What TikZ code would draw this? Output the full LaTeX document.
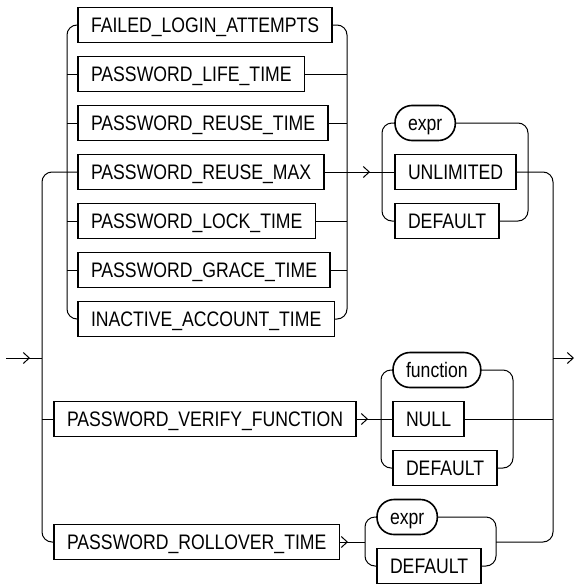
\documentclass[tikz,border=0pt]{standalone}
\usepackage{fontspec}
\setmainfont{Liberation Sans}[FakeStretch=0.84]
\usetikzlibrary{arrows.meta, positioning, calc}

\begin{document}
\begin{tikzpicture}[x=1pt, y=-1pt,
      every node/.style={font=\fontsize{21}{24}\selectfont},
      box/.style={draw, line width=1.6pt, rectangle, minimum height=35pt, inner xsep=13pt, inner ysep=0pt, text height=15pt, text depth=0pt, outer sep=0pt},
      pill/.style={box, rounded corners=17pt},
      line/.style={line width=1pt},
      bus/.style={line, rounded corners=10pt},
      arr/.style={line, -{Straight Barb[length=6pt, width=11pt]}}]
    \useasboundingbox (0,0) rectangle (575,584);
    % first choice
    \node[box, anchor=west] (fla) at (78,25) {FAILED\_LOGIN\_ATTEMPTS};
    \node[box, below=14pt of fla.south west, anchor=north west] (lif) {PASSWORD\_LIFE\_TIME};
    \node[box, below=14pt of lif.south west, anchor=north west] (rtm) {PASSWORD\_REUSE\_TIME};
    \node[box, below=14pt of rtm.south west, anchor=north west] (max) {PASSWORD\_REUSE\_MAX};
    \node[box, below=14pt of max.south west, anchor=north west] (lck) {PASSWORD\_LOCK\_TIME};
    \node[box, below=14pt of lck.south west, anchor=north west] (grc) {PASSWORD\_GRACE\_TIME};
    \node[box, below=14pt of grc.south west, anchor=north west] (ina) {INACTIVE\_ACCOUNT\_TIME};
    \node[pill, anchor=west] (ex1) at (395,123) {expr};
    \node[box, below=14pt of ex1.south west, anchor=north west] (unl) {UNLIMITED};
    \node[box, below=14pt of unl.south west, anchor=north west] (df1) {DEFAULT};
    % verify function
    \node[box, anchor=west] (ver) at (54,419) {PASSWORD\_VERIFY\_FUNCTION};
    \node[pill, anchor=west] (fn) at (393,370) {function};
    \node[box, below=14pt of fn.south west, anchor=north west] (nul) {NULL};
    \node[box, below=14pt of nul.south west, anchor=north west] (df2) {DEFAULT};
    % rollover time
    \node[box, anchor=west] (roll) at (54,542) {PASSWORD\_ROLLOVER\_TIME};
    \node[pill, anchor=west] (ex3) at (377,517) {expr};
    \node[box, below=14pt of ex3.south west, anchor=north west] (df3) {DEFAULT};

    % buses
    \coordinate (start) at (6,358);
    \coordinate (finish) at (574,358);
    \coordinate (olb) at (42,358);
    \coordinate (orb) at (553,358);
    \coordinate (ilb) at (67,0);
    \coordinate (irb) at (347,0);
    \coordinate (eb1) at (382,0);
    \coordinate (eb2) at (528,0);
    \coordinate (fb1) at (381,0);
    \coordinate (fb2) at (513,0);
    \coordinate (rb1) at (365,0);
    \coordinate (rb2) at (496,0);

    \draw[line] (start) -- (olb);
    \draw[arr] (start) -- ($(olb)+(-12,0)$);
    \draw[bus] (max.west) -| (olb) |- (roll.west);
    \draw[line] (olb |- ver.west) -- (ver.west);

    \draw[bus] (fla.west) -| (ilb |- max.west) |- (ina.west);
    \draw[bus] (fla.east) -| (irb |- max.east) |- (ina.east);
    \foreach \n in {lif, rtm, lck, grc} {
      \draw[line] (ilb |- \n.west) -- (\n.west);
      \draw[line] (\n.east) -- (irb |- \n.east);
    }
    \draw[line] (max.east) -- (unl.west);
    \draw[arr] (max.east) -- ($(eb1 |- max.east)+(-12,0)$);
    \draw[bus] (ex1.west) -| (eb1 |- unl.west) |- (df1.west);
    \draw[bus] (ex1.east) -| (eb2 |- unl.east) |- (df1.east);
    \draw[bus] (unl.east) -| (orb) |- (rb2 |- roll.east);
    \draw[arr] (orb) -- (finish);

    \draw[line] (ver.east) -- (nul.west);
    \draw[arr] (ver.east) -- ($(fb1 |- ver.east)+(-13,0)$);
    \draw[bus] (fn.west) -| (fb1 |- nul.west) |- (df2.west);
    \draw[bus] (fn.east) -| (fb2 |- nul.east) |- (df2.east);
    \draw[line] (nul.east) -- (orb |- nul.east);

    \draw[line] (roll.east) -- (rb1 |- roll.east);
    \draw[arr] (roll.east) -- ($(rb1 |- roll.east)+(-17,0)$);
    \draw[bus] (ex3.west) -| (rb1 |- roll.east) |- (df3.west);
    \draw[bus] (ex3.east) -| (rb2 |- roll.east) |- (df3.east);
  \end{tikzpicture}
\end{document}
